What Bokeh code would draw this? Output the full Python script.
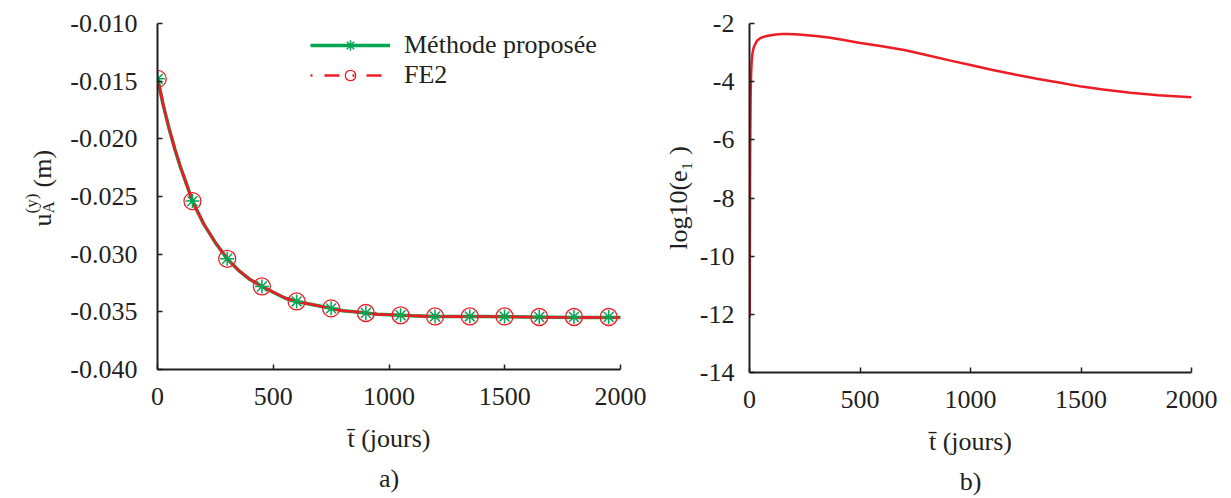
import math
from bokeh.plotting import figure
from bokeh.models import (Range1d, FixedTicker, PrintfTickFormatter, Legend, LegendItem,
                          ColumnDataSource, Title)
from bokeh.core.properties import value
from bokeh.layouts import row
from bokeh.embed import file_html
from bokeh.resources import INLINE

# ---------------- data ----------------
# panel a) : vertical displacement u_A^(y) (m) versus time (days)
t_curve = [1, 25, 50, 75, 100, 125, 151, 200, 250, 301, 350, 400, 451, 500, 550, 601,
           650, 700, 750, 800, 850, 900, 950, 1000, 1050, 1100, 1200, 1400, 1600, 1800, 2000]
u_curve = [-0.0148, -0.0171, -0.0191, -0.0209, -0.0225, -0.0239, -0.0254, -0.0274, -0.0290,
           -0.0304, -0.0314, -0.0322, -0.0328, -0.0333, -0.0338, -0.0341, -0.0343, -0.0345,
           -0.0347, -0.0349, -0.0350, -0.0351, -0.0352, -0.03525, -0.0353, -0.03535, -0.0354,
           -0.0354, -0.03545, -0.0355, -0.0355]
t_marks = [1, 151, 301, 451, 601, 750, 900, 1050, 1199, 1349, 1499, 1649, 1799, 1949]
u_marks = [-0.0148, -0.0254, -0.0304, -0.0328, -0.0341, -0.0347, -0.0351, -0.0353,
           -0.0354, -0.0354, -0.0354, -0.03545, -0.03545, -0.03545]

# panel b) : log10(e1) versus time (days)
t_err = [1, 2, 3, 5, 7, 10, 14, 20, 34, 50, 68, 90, 119, 150, 171, 200, 222, 300, 358, 420,
         495, 600, 700, 800, 900, 1000, 1100, 1212, 1300, 1400, 1502, 1600, 1724, 1850, 2000]
e_err = [-12.1, -9.0, -6.5, -4.6, -3.8, -3.3, -3.0, -2.8, -2.59, -2.5, -2.45, -2.41, -2.38,
         -2.365, -2.36, -2.37, -2.38, -2.43, -2.48, -2.56, -2.66, -2.78, -2.91, -3.08, -3.26,
         -3.43, -3.6, -3.77, -3.9, -4.03, -4.17, -4.27, -4.38, -4.47, -4.54]

x_ticks = [0, 500, 1000, 1500, 2000]
ya_ticks = [-0.040, -0.035, -0.030, -0.025, -0.020, -0.015, -0.010]
yb_ticks = [-14, -12, -10, -8, -6, -4, -2]

legend_labels = ["Méthode proposée", "FE2"]
xlabel = "t\u0304 (jours)"
ya_title = ["u", "A", "(y)", "(m)"]          # u_A^(y) (m)
yb_title = "log10(e\u2081 )"                   # log10(e_1 )

GREEN = "#00A651"
RED = "#ED1C24"
INK = "#231F20"
FONT = "Liberation Serif"
FS = "26px"

# ---------------- geometry (page pixels, page starts at 0,0) ----------------
H = 496
LA_W = 60                        # strip holding the y title of panel a
A_LEFT, A_W, A_RIGHT, A_TOP, A_H = 97, 463, 30, 23, 346
B_LEFT, B_W, B_RIGHT, B_TOP, B_H = 99, 442, 30, 20, 349


def style(p, yticks, fmt, ystandoff):
    p.xgrid.visible = False
    p.ygrid.visible = False
    p.outline_line_color = None
    p.background_fill_color = "white"
    p.border_fill_color = "white"
    for ax in (p.xaxis[0], p.yaxis[0]):
        ax.axis_line_color = INK
        ax.axis_line_width = 2
        ax.major_tick_line_color = INK
        ax.major_tick_line_width = 1.5
        ax.major_tick_in = 5
        ax.major_tick_out = 0
        ax.minor_tick_line_color = None
        ax.major_label_text_font = FONT
        ax.major_label_text_font_size = FS
        ax.major_label_text_color = INK
        ax.axis_label_text_font = FONT
        ax.axis_label_text_font_size = FS
        ax.axis_label_text_font_style = "normal"
        ax.axis_label_text_color = INK
    p.xaxis.ticker = FixedTicker(ticks=x_ticks)
    p.yaxis.ticker = FixedTicker(ticks=yticks)
    p.xaxis.formatter = PrintfTickFormatter(format="%d")
    p.yaxis.formatter = PrintfTickFormatter(format=fmt)
    p.xaxis.major_label_standoff = 18
    p.yaxis.major_label_standoff = ystandoff
    p.xaxis.axis_label = xlabel
    p.xaxis.axis_label_standoff = 16


def strip(x0, width, top, fh):
    # a frame-only figure whose data coordinates are page pixels
    s = figure(frame_width=width, frame_height=fh, min_border_left=0, min_border_right=0,
               min_border_top=top, min_border_bottom=H - top - fh,
               x_range=Range1d(x0, x0 + width), y_range=Range1d(top + fh, top),
               x_axis_location=None, y_axis_location=None,
               output_backend="svg", toolbar_location=None, tools="")
    s.xgrid.visible = False
    s.ygrid.visible = False
    s.outline_line_color = None
    s.background_fill_color = "white"
    s.border_fill_color = "white"
    return s


def put(p, text, px, py, size):
    # rotated (reading upward) text; px = baseline position, py = start of the text
    p.text(x=[px], y=[py], text=[text], angle=math.pi / 2,
           text_align="left", text_baseline="alphabetic", text_font=value(FONT),
           text_font_size=value(size), text_color=INK)


# ---------------- y title of panel a ----------------
la = strip(0, LA_W, A_TOP, A_H)
put(la, ya_title[0], 42, 226, "26px")
put(la, ya_title[1], 48, 213, "17px")
put(la, ya_title[2], 31, 213, "17px")
put(la, ya_title[3], 42, 187, "26px")

# ---------------- panel a ----------------
pa = figure(frame_width=A_W, frame_height=A_H, min_border_left=A_LEFT, min_border_right=A_RIGHT,
            min_border_top=A_TOP, min_border_bottom=H - A_TOP - A_H,
            x_range=Range1d(0, 2000), y_range=Range1d(-0.040, -0.010),
            output_backend="svg", toolbar_location=None, tools="")
style(pa, ya_ticks, "%.3f", 20)

src_curve = ColumnDataSource(dict(t=t_curve, u=u_curve))
src_marks = ColumnDataSource(dict(t=t_marks, u=u_marks))

g_line = pa.line("t", "u", source=src_curve, line_color=GREEN, line_width=3.5)
r_leg = pa.line("t", "u", source=src_curve, line_color=RED, line_width=2.5, line_dash="2 12 15 13")
r_line = pa.line("t", "u", source=src_curve, line_color=RED, line_width=2.5)
r_mark = pa.scatter("t", "u", source=src_marks, marker="circle", size=17,
                    line_color=RED, line_width=1.3, fill_color=None)
g_mark = pa.scatter("t", "u", source=src_marks, marker="asterisk", size=14,
                    line_color=GREEN, line_width=1.5)

legend = Legend(items=[LegendItem(label=legend_labels[0], renderers=[g_line, g_mark]),
                       LegendItem(label=legend_labels[1], renderers=[r_leg, r_mark])],
                location=(153, 279), padding=0, margin=0, spacing=0,
                glyph_width=80, glyph_height=26, label_height=26, label_standoff=14,
                label_text_font=FONT, label_text_font_size=FS, label_text_color=INK,
                label_text_baseline="middle",
                border_line_color=None, background_fill_alpha=0)
pa.add_layout(legend, "center")
pa.add_layout(Title(text="a)", align="center", text_font=FONT, text_font_size=FS,
                    text_font_style="normal", text_color=INK, standoff=12), "below")

# ---------------- panel b ----------------
pb = figure(frame_width=B_W, frame_height=B_H, min_border_left=B_LEFT, min_border_right=B_RIGHT,
            min_border_top=B_TOP, min_border_bottom=H - B_TOP - B_H,
            x_range=Range1d(0, 2000), y_range=Range1d(-14, -2),
            output_backend="svg", toolbar_location=None, tools="")
style(pb, yb_ticks, "%d", 15)
pb.yaxis.axis_label = yb_title
pb.yaxis.axis_label_standoff = 4
pb.line(t_err, e_err, line_color=RED, line_width=2.5)
pb.add_layout(Title(text="b)", align="center", text_font=FONT, text_font_size=FS,
                    text_font_style="normal", text_color=INK, standoff=12), "below")

layout = row(la, pa, pb)
open("out.html", "w").write(file_html(layout, INLINE))
